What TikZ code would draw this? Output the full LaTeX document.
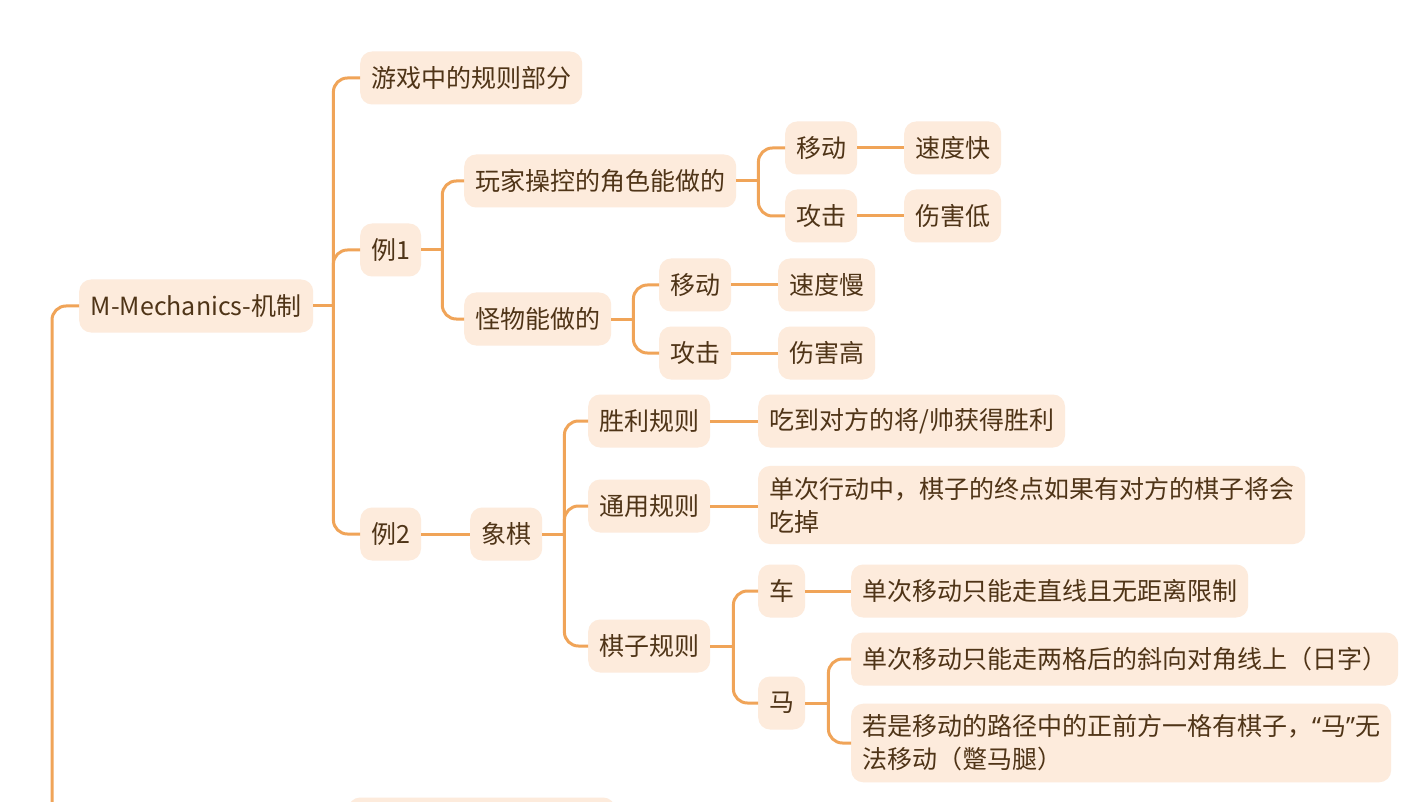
\documentclass[tikz,border=0pt]{standalone}
\usepackage{fontspec}
\setmainfont{Noto Sans CJK SC}
\newfontfamily\latf{Noto Sans}
\usetikzlibrary{calc}
\definecolor{lineC}{HTML}{F0A458}
\definecolor{fillC}{HTML}{FDEBDC}
\definecolor{textC}{HTML}{4F3417}
\begin{document}
\begin{tikzpicture}[x=1pt,y=-1pt,
  box/.style={fill=fillC, rounded corners=12pt, text=textC,
    font=\fontsize{25}{33}\selectfont, minimum height=53pt,
    inner xsep=11pt, inner ysep=11pt, anchor=west, align=left},
  conn/.style={draw=lineC, line width=3pt, rounded corners=14pt}]
\useasboundingbox (0,0) rectangle (1416,802);
\clip (0,0) rectangle (1416,802);
\fill[white] (0,0) rectangle (1416,802);

\node[box, minimum width=234pt] (root) at (79,306) {M-Mechanics-机制};
\node[box] (a) at (360,78) {游戏中的规则部分};
\node[box] (e1) at (360,250) {例1};
\node[box] (p1) at (464,181) {玩家操控的角色能做的};
\node[box] (p1m) at (785,148) {移动};
\node[box] (p1ms) at (904,148) {速度快};
\node[box] (p1a) at (785,216) {攻击};
\node[box] (p1ad) at (904,216) {伤害低};
\node[box] (mo) at (464,319) {怪物能做的};
\node[box] (mom) at (659,285) {移动};
\node[box] (moms) at (778,285) {速度慢};
\node[box] (moa) at (659,353) {攻击};
\node[box] (moad) at (778,353) {伤害高};
\node[box] (e2) at (360,534) {例2};
\node[box] (xq) at (470,534) {象棋};
\node[box] (win) at (588,421) {胜利规则};
\node[box] (wint) at (758,421) {吃到对方的将/帅获得胜利};
\node[box] (gen) at (588,506) {通用规则};
\node[box] (gent) at (758,505) {单次行动中，棋子的终点如果有对方的棋子将会\\吃掉};
\node[box] (pc) at (588,646) {棋子规则};
\node[box] (che) at (758,591) {车};
\node[box] (chet) at (851,591) {单次移动只能走直线且无距离限制};
\node[box] (ma) at (758,703) {马};
\node[box] (ma1) at (851,659) {单次移动只能走两格后的斜向对角线上（日字）};
\node[box] (ma2) at (851,743) {若是移动的路径中的正前方一格有棋子，{\latf “}马{\latf ”}无\\法移动（蹩马腿）};
\node[box, minimum width=267pt] (nx) at (348,824) {};

% root
\coordinate (rl) at (52,840);
\draw[conn] (root.west) -| (rl);
\coordinate (jr) at ($(root.east)+(20,0)$);
\draw[conn] (root.east) -- (jr);
\foreach \c in {a,e1,e2} \draw[conn] (jr) |- (\c.west);
% 例1
\coordinate (j1) at ($(e1.east)+(21,0)$);
\draw[conn] (e1.east) -- (j1);
\foreach \c in {p1,mo} \draw[conn] (j1) |- (\c.west);
% 玩家
\coordinate (j2) at ($(p1.east)+(22,0)$);
\draw[conn] (p1.east) -- (j2);
\foreach \c in {p1m,p1a} \draw[conn] (j2) |- (\c.west);
\draw[conn] (p1m.east) -- (p1ms.west);
\draw[conn] (p1a.east) -- (p1ad.west);
% 怪物
\coordinate (j3) at ($(mo.east)+(22,0)$);
\draw[conn] (mo.east) -- (j3);
\foreach \c in {mom,moa} \draw[conn] (j3) |- (\c.west);
\draw[conn] (mom.east) -- (moms.west);
\draw[conn] (moa.east) -- (moad.west);
% 例2
\draw[conn] (e2.east) -- (xq.west);
\coordinate (j4) at ($(xq.east)+(22,0)$);
\draw[conn] (xq.east) -- (j4);
\foreach \c in {win,gen,pc} \draw[conn] (j4) |- (\c.west);
\draw[conn] (win.east) -- (wint.west);
\draw[conn] (gen.east) -- (gen.east -| gent.west);
\coordinate (j5) at ($(pc.east)+(23,0)$);
\draw[conn] (pc.east) -- (j5);
\foreach \c in {che,ma} \draw[conn] (j5) |- (\c.west);
\draw[conn] (che.east) -- (chet.west);
\coordinate (j6) at ($(ma.east)+(23,0)$);
\draw[conn] (ma.east) -- (j6);
\foreach \c in {ma1,ma2} \draw[conn] (j6) |- (\c.west);
\end{tikzpicture}
\end{document}
